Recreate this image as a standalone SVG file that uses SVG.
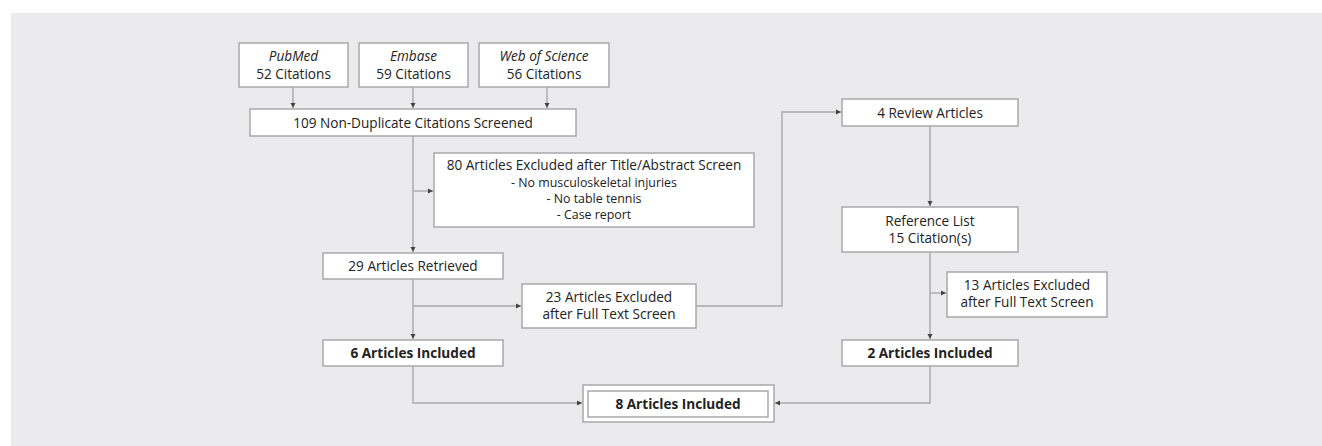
<svg xmlns="http://www.w3.org/2000/svg" width="1322" height="446" viewBox="0 0 1322 446">
<style>
.box{fill:#fff;stroke:#a9a9a9;stroke-width:1.5}
.t{font-family:"Open Sans","Liberation Sans",sans-serif;font-size:13.6px;fill:#222;text-anchor:middle}
.s{font-size:12.4px}
.b{font-weight:bold}
.i{font-style:italic}
.ln{fill:none;stroke:#a9a9a9;stroke-width:1.4}
</style>
<defs>
<marker id="ar" markerWidth="6" markerHeight="6" refX="5" refY="3" orient="auto" markerUnits="userSpaceOnUse">
<path d="M0,0.5 L5,3 L0,5.5 Z" fill="#444"/>
</marker>
</defs>
<rect x="11" y="13" width="1311" height="433" fill="#ebebed"/>
<g id="connectors">
<line class="ln" x1="293" y1="87" x2="293" y2="108" marker-end="url(#ar)"/>
<line class="ln" x1="413" y1="87" x2="413" y2="108" marker-end="url(#ar)"/>
<line class="ln" x1="547" y1="87" x2="547" y2="108" marker-end="url(#ar)"/>
<line class="ln" x1="413" y1="136" x2="413" y2="252" marker-end="url(#ar)"/>
<line class="ln" x1="413" y1="191" x2="433" y2="191" marker-end="url(#ar)"/>
<line class="ln" x1="413" y1="279" x2="413" y2="339" marker-end="url(#ar)"/>
<line class="ln" x1="413" y1="306" x2="521" y2="306" marker-end="url(#ar)"/>
<polyline class="ln" points="696,306 782,306 782,112 841,112" marker-end="url(#ar)"/>
<line class="ln" x1="930" y1="126" x2="930" y2="206" marker-end="url(#ar)"/>
<line class="ln" x1="930" y1="252" x2="930" y2="339" marker-end="url(#ar)"/>
<line class="ln" x1="930" y1="293" x2="946" y2="293" marker-end="url(#ar)"/>
<polyline class="ln" points="413,366 413,403 582,403" marker-end="url(#ar)"/>
<polyline class="ln" points="930,366 930,403 775,403" marker-end="url(#ar)"/>
</g>
<g id="pubmed"><rect class="box" x="239" y="43" width="109" height="44"/>
<text class="t i" x="293.5" y="61">PubMed</text><text class="t" x="293.5" y="79">52 Citations</text></g>
<g id="embase"><rect class="box" x="359" y="43" width="109" height="44"/>
<text class="t i" x="413.5" y="61">Embase</text><text class="t" x="413.5" y="79">59 Citations</text></g>
<g id="wos"><rect class="box" x="479" y="43" width="130" height="44"/>
<text class="t i" x="544" y="61">Web of Science</text><text class="t" x="544" y="79">56 Citations</text></g>
<g id="screened"><rect class="box" x="250" y="109" width="326" height="27"/>
<text class="t" x="413" y="127.5">109 Non-Duplicate Citations Screened</text></g>
<g id="excluded80"><rect class="box" x="434" y="153" width="320" height="74"/>
<text class="t" x="594" y="170">80 Articles Excluded after Title/Abstract Screen</text>
<text class="t s" x="594" y="187">- No musculoskeletal injuries</text>
<text class="t s" x="594" y="203">- No table tennis</text>
<text class="t s" x="594" y="219">- Case report</text></g>
<g id="retrieved"><rect class="box" x="323" y="253" width="180" height="26"/>
<text class="t" x="413" y="270.5">29 Articles Retrieved</text></g>
<g id="excluded23"><rect class="box" x="522" y="284" width="174" height="44"/>
<text class="t" x="609" y="302">23 Articles Excluded</text><text class="t" x="609" y="319">after Full Text Screen</text></g>
<g id="included6"><rect class="box" x="323" y="340" width="180" height="26"/>
<text class="t b" x="413" y="358">6 Articles Included</text></g>
<g id="review"><rect class="box" x="842" y="99" width="176" height="27"/>
<text class="t" x="930" y="117.5">4 Review Articles</text></g>
<g id="reflist"><rect class="box" x="842" y="207" width="176" height="45"/>
<text class="t" x="930" y="226">Reference List</text><text class="t" x="930" y="243">15 Citation(s)</text></g>
<g id="excluded13"><rect class="box" x="947" y="272" width="160" height="45"/>
<text class="t" x="1027" y="290">13 Articles Excluded</text><text class="t" x="1027" y="307">after Full Text Screen</text></g>
<g id="included2"><rect class="box" x="842" y="340" width="176" height="26"/>
<text class="t b" x="930" y="358">2 Articles Included</text></g>
<g id="included8"><rect class="box" x="583" y="385" width="191" height="37"/>
<rect class="box" x="588" y="391" width="180" height="26"/>
<text class="t b" x="678" y="409">8 Articles Included</text></g>
</svg>
